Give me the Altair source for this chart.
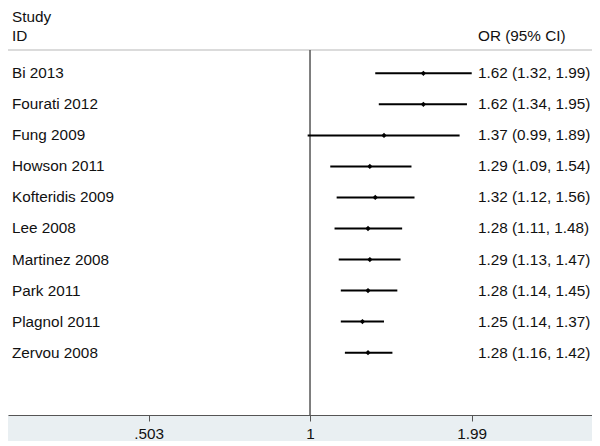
import altair as alt
import pandas as pd

studies = ["Bi 2013", "Fourati 2012", "Fung 2009", "Howson 2011", "Kofteridis 2009",
           "Lee 2008", "Martinez 2008", "Park 2011", "Plagnol 2011", "Zervou 2008"]
or_vals = [1.62, 1.62, 1.37, 1.29, 1.32, 1.28, 1.29, 1.28, 1.25, 1.28]
lo_vals = [1.32, 1.34, 0.99, 1.09, 1.12, 1.11, 1.13, 1.14, 1.14, 1.16]
hi_vals = [1.99, 1.95, 1.89, 1.54, 1.56, 1.48, 1.47, 1.45, 1.37, 1.42]
tick_values = [0.503, 1, 1.99]
tick_labels = [".503", "1", "1.99"]

df = pd.DataFrame({
    "study": studies,
    "or": or_vals,
    "lo": lo_vals,
    "hi": hi_vals,
    "row": list(range(len(studies))),
})
df["label"] = [f"{o:.2f} ({l:.2f}, {h:.2f})" for o, l, h in zip(or_vals, lo_vals, hi_vals)]

FONT = "Liberation Sans"
FS = 15.3
W, H = 584, 407

xscale = alt.Scale(type="log", domain=[0.2766, 3.320], nice=False)
yscale = alt.Scale(domain=[-2.104, 11.009], reverse=True, nice=False, zero=False)

label_expr = " : ".join(
    [f"datum.value == {v} ? '{t}'" for v, t in zip(tick_values[:-1], tick_labels[:-1])]
) + f" : '{tick_labels[-1]}'"

xaxis = alt.Axis(values=tick_values, labelExpr=label_expr, grid=False, title=None,
                 domainColor="#555555", tickColor="#555555", tickSize=6,
                 labelPadding=5, labelFont=FONT, labelFontSize=FS,
                 labelColor="#111111", domainWidth=1.2, zindex=2)

base = alt.Chart(df)
one = alt.Chart(pd.DataFrame({"a": [0]}))

band = one.mark_rect(color="#e9eff2").encode(
    x=alt.value(0), x2=alt.value(W), y=alt.value(H), y2=alt.value(H + 26)
)

sep = one.mark_rule(color="#cfcfcf", strokeWidth=1.5).encode(
    x=alt.value(0), x2=alt.value(W), y=alt.value(42)
)

ref = alt.Chart(pd.DataFrame({"v": [1.0]})).mark_rule(color="#555555", strokeWidth=1.5).encode(
    x=alt.X("v:Q", scale=xscale, axis=xaxis), y=alt.value(42), y2=alt.value(H)
)

ci = base.mark_rule(color="black", strokeWidth=2).encode(
    x=alt.X("lo:Q", scale=xscale, axis=xaxis),
    x2="hi:Q",
    y=alt.Y("row:Q", scale=yscale, axis=None),
)

pts = base.mark_point(shape="diamond", filled=True, color="black", size=28, opacity=1).encode(
    x=alt.X("or:Q", scale=xscale, axis=xaxis),
    y=alt.Y("row:Q", scale=yscale, axis=None),
)

names = base.mark_text(align="left", baseline="middle", font=FONT, fontSize=FS, color="#111111").encode(
    x=alt.value(4), y=alt.Y("row:Q", scale=yscale, axis=None), text="study:N"
)

ors = base.mark_text(align="left", baseline="middle", font=FONT, fontSize=FS, color="#111111").encode(
    x=alt.value(470), y=alt.Y("row:Q", scale=yscale, axis=None), text="label:N"
)

hdr = alt.Chart(pd.DataFrame({
    "t": ["Study", "ID", "OR (95% CI)"],
    "px": [4, 4, 470],
    "py": [9, 28, 28],
})).mark_text(align="left", baseline="middle", font=FONT, fontSize=FS, color="#111111").encode(
    x=alt.X("px:Q", scale=None), y=alt.Y("py:Q", scale=None), text="t:N"
)

chart = alt.layer(band, sep, ref, ci, pts, names, ors, hdr).properties(
    width=W, height=H,
    autosize=alt.AutoSizeParams(type="none"),
    padding={"left": 0, "right": 0, "top": 0, "bottom": 30},
).configure_view(stroke=None)

chart.save("out.html", embed_options={"renderer": "svg", "actions": False})
